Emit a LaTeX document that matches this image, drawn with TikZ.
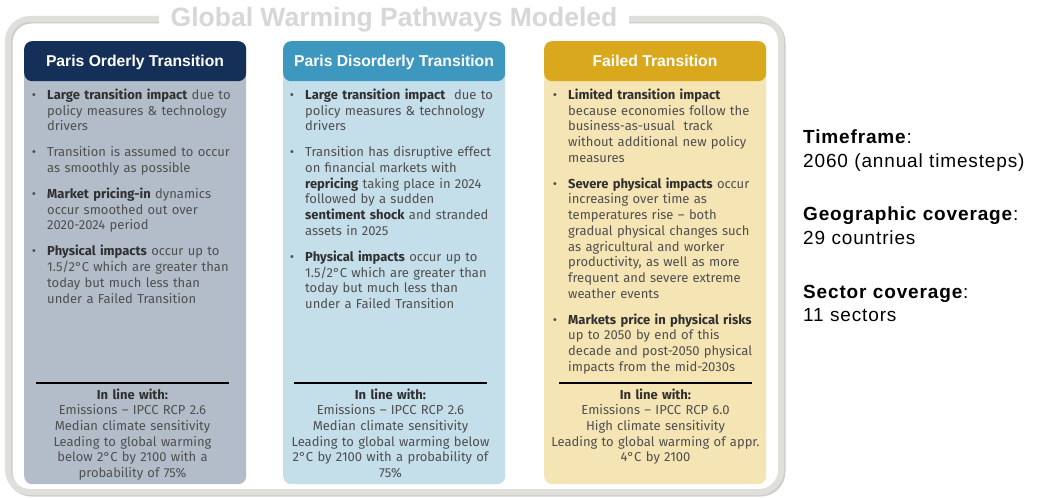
\documentclass[tikz,border=0pt]{standalone}
\usepackage{fontspec}
\setmainfont{Fira Sans}
\newfontfamily\arialf{Liberation Sans}
\newfontfamily\arialsp[LetterSpace=4.5]{Liberation Sans}
\definecolor{frameg}{HTML}{DFDFDB}
\definecolor{frames}{HTML}{CDCDC9}
\definecolor{titleg}{HTML}{D7D7D7}
\definecolor{hA}{HTML}{143058}
\definecolor{bA}{HTML}{B3BDCA}
\definecolor{hB}{HTML}{3E97BF}
\definecolor{bB}{HTML}{C4DEEA}
\definecolor{hC}{HTML}{D9A81C}
\definecolor{bC}{HTML}{F5E4B4}
\definecolor{txt}{HTML}{4F4F4F}
\definecolor{txtb}{HTML}{303030}
\newcommand\bi{\noindent\llap{\textbullet\hspace{11pt}}}
\newcommand\gap{\par\vspace{10.3pt}}
\newcommand\bt[1]{{\bfseries\color{txtb}#1}}
\tikzset{
  boxbody/.style={rounded corners=8pt, inner sep=0pt, minimum width=222pt, minimum height=443pt, anchor=north west},
  hdr/.style={rounded corners=8pt, inner sep=0pt, minimum width=222pt, minimum height=40pt, anchor=north west,
    text=white, font=\arialf\bfseries\fontsize{15.5}{18}\selectfont},
  hdrtxt/.style={inner sep=0pt, anchor=base, text=white, font=\arialf\bfseries\fontsize{15.7}{18}\selectfont},
  bodytxt/.style={inner sep=0pt, anchor=base west, text width=230pt, text=txt, font=\fontsize{13}{15.7}\selectfont},
  inl/.style={inner sep=0pt, anchor=base, text width=240pt, align=center, text=txt, font=\fontsize{13}{15.7}\selectfont},
  sepline/.style={line width=2pt, black},
  rt/.style={inner sep=0pt, anchor=base west, text width=232pt, align=left, text=black, font=\arialsp\fontsize{19}{24}\selectfont},
}
\begin{document}
\begin{tikzpicture}[x=1pt,y=-1pt]
\useasboundingbox (0,0) rectangle (1037,500);
% frame
\draw[frames, line width=6pt, rounded corners=22pt] (9.5,20.5) rectangle (782.5,493.5);
\draw[frameg, line width=6pt, rounded corners=22pt] (8,19) rectangle (781,492);
\node[fill=white, inner xsep=12pt, inner ysep=3pt, anchor=base, text=titleg,
  font=\arialf\bfseries\fontsize{26.5}{30}\selectfont] (title) at (394,27) {Global Warming Pathways Modeled};
% boxes
\node[boxbody, fill=bA] (bodyA) at (24,41) {};
\node[boxbody, fill=bB] (bodyB) at (283,41) {};
\node[boxbody, fill=bC] (bodyC) at (544,41) {};
\node[hdr, fill=hA] (hdrA) at (24,41) {};
\node[hdr, fill=hB] (hdrB) at (283,41) {};
\node[hdr, fill=hC] (hdrC) at (544,41) {};
\node[hdrtxt] (htA) at (135,66.5) {Paris Orderly Transition};
\node[hdrtxt] (htB) at (394,66.5) {Paris Disorderly Transition};
\node[hdrtxt] (htC) at (655,66.5) {Failed Transition};
% body texts
\node[bodytxt] (tA) at (47,99.5) {%
\bi\bt{Large transition impact} due to\newline policy measures \& technology\newline drivers\gap
\bi Transition is assumed to occur\newline as smoothly as possible\gap
\bi\bt{Market pricing-in} dynamics\newline occur smoothed out over\newline 2020-2024 period\gap
\bi\bt{Physical impacts} occur up to\newline 1.5/2°C which are greater than\newline today but much less than\newline under a Failed Transition\par};
\node[bodytxt] (tB) at (305,99.5) {%
\bi\bt{Large transition impact}\ \ due to\newline policy measures \& technology\newline drivers\gap
\bi Transition has disruptive effect\newline on financial markets with\newline \bt{repricing} taking place in 2024\newline followed by a sudden\newline \bt{sentiment shock} and stranded\newline assets in 2025\gap
\bi\bt{Physical impacts} occur up to\newline 1.5/2°C which are greater than\newline today but much less than\newline under a Failed Transition\par};
\node[bodytxt] (tC) at (568,99.5) {%
\bi\bt{Limited transition impact}\newline because economies follow the\newline business-as-usual\ \ track\newline without additional new policy\newline measures\gap
\bi\bt{Severe physical impacts} occur\newline increasing over time as\newline temperatures rise – both\newline gradual physical changes such\newline as agricultural and worker\newline productivity, as well as more\newline frequent and severe extreme\newline weather events\gap
\bi\bt{Markets price in physical risks}\newline up to 2050 by end of this\newline decade and post-2050 physical\newline impacts from the mid-2030s\par};
% separators
\draw[sepline] (36,383) -- (229,383);
\draw[sepline] (294,383) -- (487,383);
\draw[sepline] (559,383) -- (752,383);
% in line with
\node[inl] (lA) at (132.5,399) {\bt{In line with:}\\Emissions – IPCC RCP 2.6\\Median climate sensitivity\\Leading to global warming\\below 2°C by 2100 with a\\probability of 75\%};
\node[inl] (lB) at (390.5,399) {\bt{In line with:}\\Emissions – IPCC RCP 2.6\\Median climate sensitivity\\Leading to global warming below\\2°C by 2100 with a probability of\\75\%};
\node[inl] (lC) at (655.5,399) {\bt{In line with:}\\Emissions – IPCC RCP 6.0\\High climate sensitivity\\Leading to global warming of appr.\\4°C by 2100};
% right side
\node[rt] (r1) at (803,144) {\textbf{Timeframe}:\\2060 (annual timesteps)};
\node[rt] (r2) at (803,221) {\textbf{Geographic coverage}:\\29 countries};
\node[rt] (r3) at (803,298) {\textbf{Sector coverage}:\\11 sectors};
\end{tikzpicture}
\end{document}
